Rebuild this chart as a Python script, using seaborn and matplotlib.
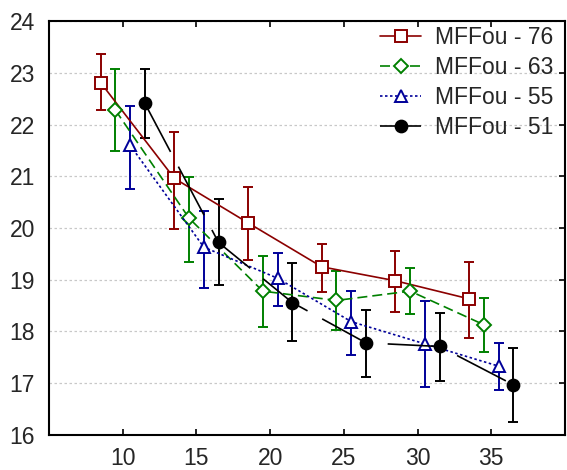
import numpy as np
import pandas as pd
import matplotlib
matplotlib.use("Agg")
import matplotlib.pyplot as plt
import seaborn as sns

# series
labels = ["MFFou - 76", "MFFou - 63", "MFFou - 55", "MFFou - 51"]

x_76 = [8.5, 13.5, 18.5, 23.5, 28.5, 33.5]
y_76 = [22.81, 20.96, 20.10, 19.25, 18.98, 18.63]
lo_76 = [22.28, 19.99, 19.38, 18.76, 18.37, 17.88]
hi_76 = [23.36, 21.86, 20.80, 19.70, 19.56, 19.35]

x_63 = [9.5, 14.5, 19.5, 24.5, 29.5, 34.5]
y_63 = [22.28, 20.19, 18.78, 18.60, 18.78, 18.13]
lo_63 = [21.49, 19.34, 18.08, 18.02, 18.33, 17.60]
hi_63 = [23.07, 20.99, 19.46, 19.16, 19.23, 18.65]

x_55 = [10.5, 15.5, 20.5, 25.5, 30.5, 35.5]
y_55 = [21.60, 19.63, 19.03, 18.19, 17.76, 17.33]
lo_55 = [20.76, 18.85, 18.49, 17.55, 16.93, 16.87]
hi_55 = [22.36, 20.33, 19.51, 18.78, 18.58, 17.78]

x_51 = [11.5, 16.5, 21.5, 26.5, 31.5, 36.5]
y_51 = [22.41, 19.72, 18.56, 17.78, 17.71, 16.97]
lo_51 = [21.73, 18.89, 17.82, 17.13, 17.04, 16.26]
hi_51 = [23.08, 20.57, 19.32, 18.42, 18.36, 17.68]

x_ticks = [10, 15, 20, 25, 30, 35]
y_ticks = [16, 17, 18, 19, 20, 21, 22, 23, 24]

sns.set_theme(style="white")
plt.rcParams["font.family"] = ["Liberation Sans", "DejaVu Sans"]

fig = plt.figure(figsize=(5.67, 4.70), dpi=100)
ax = fig.add_axes([0.0864, 0.0745, 0.9101, 0.8808])

series = [
    (x_76, y_76, lo_76, hi_76, "#8b0000", "s", "white", "-"),
    (x_63, y_63, lo_63, hi_63, "#008000", "D", "white", (0, (6, 3))),
    (x_55, y_55, lo_55, hi_55, "#000099", "^", "white", (0, (1.5, 1.5))),
    (x_51, y_51, lo_51, hi_51, "black", "o", "black", (0, (33, 10))),
]

for (xs, ys, lo, hi, col, mk, face, ls), lab in zip(series, labels):
    df = pd.DataFrame({"x": xs, "y": ys})
    yerr = np.array([np.subtract(ys, lo), np.subtract(hi, ys)])
    ax.errorbar(xs, ys, yerr=yerr, fmt="none", ecolor=col, elinewidth=1.4,
                capsize=3.6, capthick=1.4, zorder=2)
    ms = 7 if mk == "D" else (8.5 if mk == "o" else 8)
    sns.lineplot(data=df, x="x", y="y", ax=ax, color=col, marker=mk,
                 markersize=ms, markerfacecolor=face, markeredgecolor=col,
                 markeredgewidth=1.4, linewidth=1.2, linestyle=ls,
                 label=lab, zorder=3)

ax.set_xlim(5, 40)
ax.set_ylim(16, 24)
ax.set_xticks(x_ticks)
ax.set_yticks(y_ticks)
ax.set_xlabel("")
ax.set_ylabel("")
ax.yaxis.grid(True, color="#c8c8c8", linestyle=(0, (2, 2)), linewidth=0.9)
ax.xaxis.grid(False)

for sp in ax.spines.values():
    sp.set_visible(True)
    sp.set_color("black")
    sp.set_linewidth(1.5)

ax.tick_params(axis="x", which="both", direction="in", top=True, bottom=True,
               length=4, width=1.2, color="black", labelsize=16.5, pad=9)
ax.tick_params(axis="y", which="both", direction="in", left=False, right=True,
               length=4, width=1.2, color="black", labelsize=16.5, pad=10)

leg = ax.legend(loc="upper right", frameon=False, fontsize=16.5,
                handlelength=1.8, labelspacing=0.3, borderaxespad=0.0,
                handletextpad=0.6, bbox_to_anchor=(0.995, 1.01))

fig.savefig("out.png", dpi=100)
